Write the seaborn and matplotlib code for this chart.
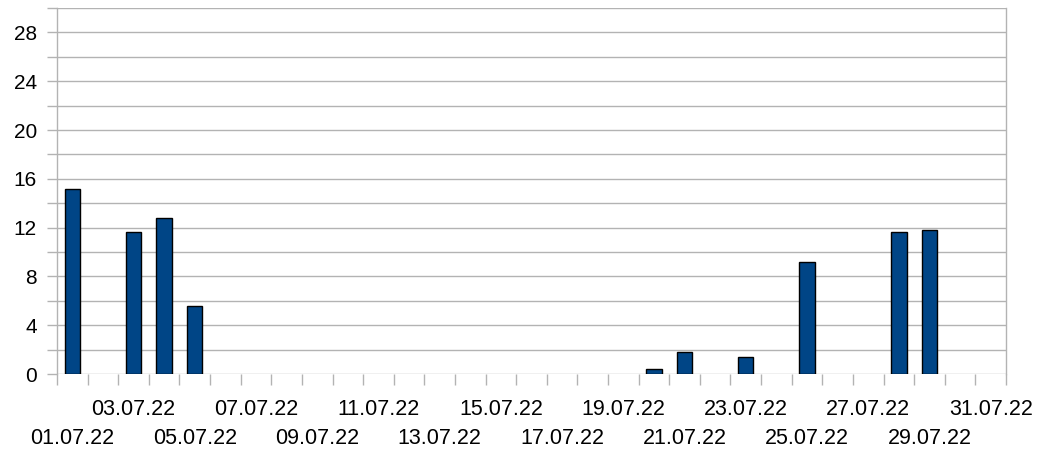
import matplotlib
matplotlib.use("Agg")
import matplotlib.pyplot as plt
import seaborn as sns
import pandas as pd
from matplotlib.ticker import MultipleLocator, FixedLocator

days = [f"{d:02d}.07.22" for d in range(1, 32)]
values = [15.2, 0, 11.6, 12.8, 5.6, 0, 0, 0, 0, 0,
          0, 0, 0, 0, 0, 0, 0, 0, 0, 0.4,
          1.8, 0, 1.4, 0, 9.2, 0, 0, 11.6, 11.8, 0, 0]

df = pd.DataFrame({"day": days, "value": values})

sns.set_style("white")
plt.rcParams['font.family'] = ['Liberation Sans', 'DejaVu Sans']

fig = plt.figure(figsize=(10.37, 4.51), dpi=100)
ax = fig.add_axes([57/1037, 1-374/451, (1006-57)/1037, (374-8)/451])

sns.barplot(data=df, x="day", y="value", ax=ax, color="#004586",
            saturation=1, width=0.5, edgecolor="black", linewidth=1, zorder=3)
for p in ax.patches:
    if p.get_height() == 0:
        p.set_visible(False)

grid_c = "#b3b3b3"
ax.set_ylim(0, 30)
ax.set_xlim(-0.5, 30.5)
ax.yaxis.set_major_locator(MultipleLocator(4))
ax.yaxis.set_minor_locator(FixedLocator([2, 6, 10, 14, 18, 22, 26, 30]))
ax.grid(True, axis="y", which="both", color=grid_c, linewidth=1, zorder=0)
ax.set_axisbelow(True)
ax.tick_params(axis="y", which="both", length=7.5, width=1, color=grid_c,
               labelsize=15, pad=7, left=True, labelcolor="black")

# x: category boundaries as minor ticks
ax.set_xticks([i - 0.5 for i in range(32)], minor=True)
ax.tick_params(axis="x", which="minor", length=8, width=1, color=grid_c, bottom=True)

# upper row of labels (03, 07, 11, ...)
upper = list(range(2, 31, 4))
ax.set_xticks(upper)
ax.set_xticklabels([days[i] for i in upper])
ax.tick_params(axis="x", which="major", length=0, labelsize=15.5, pad=18,
               labelcolor="black")

# lower row of labels (01, 05, 09, ...)
lower = list(range(0, 31, 4))
sec = ax.secondary_xaxis("bottom")
sec.set_xticks(lower)
sec.set_xticklabels([days[i] for i in lower])
sec.tick_params(axis="x", which="both", length=0, labelsize=15.5, pad=39,
                labelcolor="black")
sec.spines["bottom"].set_visible(False)

ax.set_xlabel("")
ax.set_ylabel("")
ax.spines["top"].set_visible(False)
ax.spines["bottom"].set_visible(False)
for s in ["left", "right"]:
    ax.spines[s].set_color(grid_c)
    ax.spines[s].set_linewidth(1)

fig.savefig("out.png", dpi=100)
